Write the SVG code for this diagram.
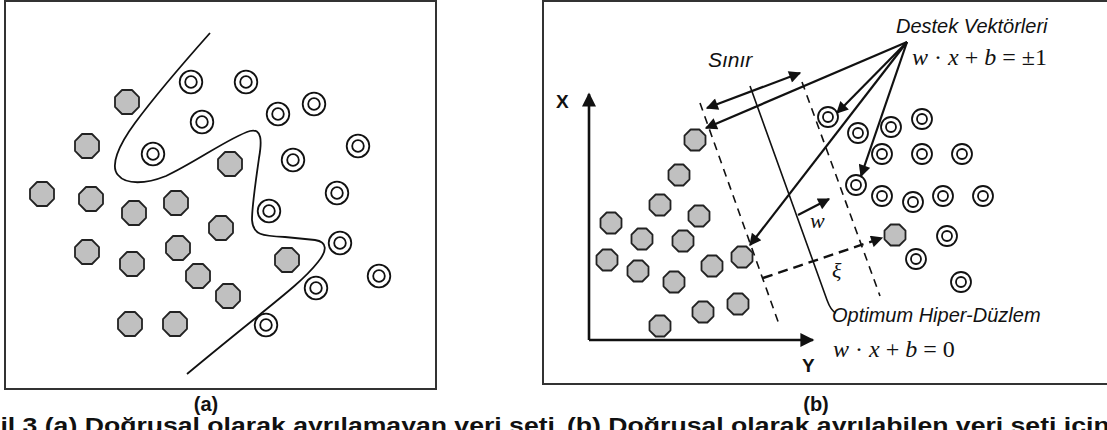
<svg xmlns="http://www.w3.org/2000/svg" xmlns:xlink="http://www.w3.org/1999/xlink" width="1107" height="430" viewBox="0 0 1107 430">
  <style>
    .frame { fill: none; stroke: #333; stroke-width: 2; }
    .oct { fill: #c0c0c0; stroke: #222; stroke-width: 1.8; stroke-linejoin: round; }
    .ring { fill: #fff; stroke: #111; stroke-width: 1.8; }
    .curve { fill: none; stroke: #111; stroke-width: 1.8; }
    .thin { fill: none; stroke: #111; stroke-width: 1.6; }
    .dash { fill: none; stroke: #111; stroke-width: 1.6; stroke-dasharray: 8 6; }
    .dash2 { fill: none; stroke: #111; stroke-width: 2.4; stroke-dasharray: 10 6; }
    .arr { fill: none; stroke: #111; stroke-width: 2.2; }
    .axis { fill: none; stroke: #111; stroke-width: 2.6; }
    .sans { font-family: "Liberation Sans", Arial, sans-serif; fill: #111; }
    .it { font-style: italic; }
    .bold { font-weight: bold; }
    .math { font-family: "Liberation Serif", "Times New Roman", serif; fill: #111; }
  </style>
  <defs>
    <!-- large octagon / ring used in panel (a) -->
    <polygon id="octA" points="-4.97,-12 4.97,-12 12,-4.97 12,4.97 4.97,12 -4.97,12 -12,4.97 -12,-4.97"/>
    <g id="ringA"><circle r="11.3"/><circle r="5.8"/></g>
    <!-- smaller octagon / ring used in panel (b) -->
    <polygon id="octB" points="-4.35,-10.5 4.35,-10.5 10.5,-4.35 10.5,4.35 4.35,10.5 -4.35,10.5 -10.5,4.35 -10.5,-4.35"/>
    <g id="ringB"><circle r="10"/><circle r="5"/></g>
    <marker id="ah" viewBox="0 0 10 10" refX="9" refY="5" markerWidth="14" markerHeight="12" markerUnits="userSpaceOnUse" orient="auto-start-reverse">
      <path d="M0,0 L10,5 L0,10 z" fill="#111"/>
    </marker>
    <marker id="ahAxis" viewBox="0 0 10 10" refX="9" refY="5" markerWidth="16" markerHeight="14" markerUnits="userSpaceOnUse" orient="auto">
      <path d="M0,0 L10,5 L0,10 z" fill="#111"/>
    </marker>
  </defs>

  <!-- ===== Panel (a): non-linear separation ===== -->
  <rect class="frame" x="5" y="1" width="431" height="388"/>

  <g id="a-boundary">
    <path class="curve" d="M210,33 C186,60 152,100 135,123 C118,146 110,166 118,175 C126,185 146,184 166,176 C196,162 230,137 250,131 C262,128 262,141 259,158 C256,180 252,205 252,220 C253,235 262,236 285,237 L315,240 C328,242 327,251 318,262 C300,285 270,305 187,374"/>
  </g>

  <g id="a-class1" class="oct">
    <g id="a-o1"><use xlink:href="#octA" x="127" y="102"/></g>
    <g id="a-o2"><use xlink:href="#octA" x="87" y="146"/></g>
    <g id="a-o3"><use xlink:href="#octA" x="230" y="164"/></g>
    <g id="a-o4"><use xlink:href="#octA" x="42" y="194"/></g>
    <g id="a-o5"><use xlink:href="#octA" x="91" y="199"/></g>
    <g id="a-o6"><use xlink:href="#octA" x="176" y="203"/></g>
    <g id="a-o7"><use xlink:href="#octA" x="134" y="213"/></g>
    <g id="a-o8"><use xlink:href="#octA" x="221" y="228"/></g>
    <g id="a-o9"><use xlink:href="#octA" x="87" y="252"/></g>
    <g id="a-o10"><use xlink:href="#octA" x="132" y="264"/></g>
    <g id="a-o11"><use xlink:href="#octA" x="178" y="248"/></g>
    <g id="a-o12"><use xlink:href="#octA" x="198" y="276"/></g>
    <g id="a-o13"><use xlink:href="#octA" x="228" y="296"/></g>
    <g id="a-o14"><use xlink:href="#octA" x="130" y="324"/></g>
    <g id="a-o15"><use xlink:href="#octA" x="175" y="324"/></g>
    <g id="a-o16"><use xlink:href="#octA" x="287" y="260"/></g>
  </g>

  <g id="a-class2" class="ring">
    <g id="a-r1"><use xlink:href="#ringA" x="191" y="82"/></g>
    <g id="a-r2"><use xlink:href="#ringA" x="246" y="82"/></g>
    <g id="a-r3"><use xlink:href="#ringA" x="202" y="122"/></g>
    <g id="a-r4"><use xlink:href="#ringA" x="153" y="154"/></g>
    <g id="a-r5"><use xlink:href="#ringA" x="278" y="114"/></g>
    <g id="a-r6"><use xlink:href="#ringA" x="314" y="104"/></g>
    <g id="a-r7"><use xlink:href="#ringA" x="358" y="146"/></g>
    <g id="a-r8"><use xlink:href="#ringA" x="293" y="160"/></g>
    <g id="a-r9"><use xlink:href="#ringA" x="337" y="193"/></g>
    <g id="a-r10"><use xlink:href="#ringA" x="269" y="211"/></g>
    <g id="a-r11"><use xlink:href="#ringA" x="340" y="243"/></g>
    <g id="a-r12"><use xlink:href="#ringA" x="379" y="276"/></g>
    <g id="a-r13"><use xlink:href="#ringA" x="316" y="288"/></g>
    <g id="a-r14"><use xlink:href="#ringA" x="266" y="325"/></g>
  </g>

  <text class="sans bold" x="206" y="411" font-size="20" text-anchor="middle">(a)</text>

  <!-- ===== Panel (b): optimal separating hyperplane ===== -->
  <rect class="frame" x="543" y="1" width="600" height="383"/>

  <g id="b-connectors">
    <!-- axes -->
    <path class="axis" d="M589,340 L589,94" marker-end="url(#ahAxis)"/>
    <path class="axis" d="M589,340 L813,340" marker-end="url(#ahAxis)"/>
    <!-- margins and hyperplane -->
    <path class="dash" d="M700,103 L780,327"/>
    <path class="dash" d="M802,82 L880,296"/>
    <path class="thin" d="M750,86 L827,300 Q831,311 836,313"/>
    <!-- margin width -->
    <path class="arr" d="M707,108 L800,73" marker-start="url(#ah)" marker-end="url(#ah)"/>
    <!-- support vector pointers -->
    <path class="arr" d="M907,42 L706,128" marker-end="url(#ah)"/>
    <path class="arr" d="M907,42 L837,113" marker-end="url(#ah)"/>
    <path class="arr" d="M907,42 L750,245" marker-end="url(#ah)"/>
    <path class="arr" d="M907,42 L861,176" marker-end="url(#ah)"/>
    <!-- normal vector w -->
    <path class="arr" d="M798,215 L829,199" marker-end="url(#ah)"/>
    <!-- slack ξ -->
    <path class="dash2" d="M763,278 L882,238" marker-end="url(#ah)"/>
  </g>

  <g id="b-class1" class="oct">
    <g id="b-o1"><use xlink:href="#octB" x="695" y="140"/></g>
    <g id="b-o2"><use xlink:href="#octB" x="679" y="175"/></g>
    <g id="b-o3"><use xlink:href="#octB" x="660" y="205"/></g>
    <g id="b-o4"><use xlink:href="#octB" x="611" y="223"/></g>
    <g id="b-o5"><use xlink:href="#octB" x="699" y="216"/></g>
    <g id="b-o6"><use xlink:href="#octB" x="642" y="239"/></g>
    <g id="b-o7"><use xlink:href="#octB" x="683" y="241"/></g>
    <g id="b-o8"><use xlink:href="#octB" x="607" y="260"/></g>
    <g id="b-o9"><use xlink:href="#octB" x="638" y="271"/></g>
    <g id="b-o10"><use xlink:href="#octB" x="712" y="266"/></g>
    <g id="b-o11"><use xlink:href="#octB" x="742" y="257"/></g>
    <g id="b-o12"><use xlink:href="#octB" x="674" y="282"/></g>
    <g id="b-o13"><use xlink:href="#octB" x="703" y="312"/></g>
    <g id="b-o14"><use xlink:href="#octB" x="738" y="304"/></g>
    <g id="b-o15"><use xlink:href="#octB" x="660" y="326"/></g>
    <g id="b-o16"><use xlink:href="#octB" x="895" y="235"/></g>
  </g>

  <g id="b-class2" class="ring">
    <g id="b-r1"><use xlink:href="#ringB" x="828" y="117"/></g>
    <g id="b-r2"><use xlink:href="#ringB" x="858" y="133"/></g>
    <g id="b-r3"><use xlink:href="#ringB" x="891" y="127"/></g>
    <g id="b-r4"><use xlink:href="#ringB" x="922" y="119"/></g>
    <g id="b-r5"><use xlink:href="#ringB" x="882" y="154"/></g>
    <g id="b-r6"><use xlink:href="#ringB" x="922" y="154"/></g>
    <g id="b-r7"><use xlink:href="#ringB" x="962" y="154"/></g>
    <g id="b-r8"><use xlink:href="#ringB" x="856" y="185"/></g>
    <g id="b-r9"><use xlink:href="#ringB" x="882" y="196"/></g>
    <g id="b-r10"><use xlink:href="#ringB" x="913" y="202"/></g>
    <g id="b-r11"><use xlink:href="#ringB" x="943" y="196"/></g>
    <g id="b-r12"><use xlink:href="#ringB" x="983" y="196"/></g>
    <g id="b-r13"><use xlink:href="#ringB" x="947" y="236"/></g>
    <g id="b-r14"><use xlink:href="#ringB" x="916" y="259"/></g>
    <g id="b-r15"><use xlink:href="#ringB" x="961" y="282"/></g>
  </g>

  <g id="b-labels">
    <text class="sans bold" x="556" y="108" font-size="19">X</text>
    <text class="sans bold" x="802" y="372" font-size="19">Y</text>
    <text class="sans it" x="708" y="67" font-size="21">Sınır</text>
    <text class="sans it" x="896" y="33" font-size="20">Destek Vektörleri</text>
    <text class="math" x="912" y="65" font-size="24"><tspan font-style="italic">w</tspan> · <tspan font-style="italic">x</tspan> + <tspan font-style="italic">b</tspan> = ±1</text>
    <text class="math it" x="810" y="228" font-size="22">w</text>
    <text class="math it" x="832" y="278" font-size="22">ξ</text>
    <text class="sans it" x="832" y="322" font-size="20">Optimum Hiper-Düzlem</text>
    <text class="math" x="833" y="357" font-size="24"><tspan font-style="italic">w</tspan> · <tspan font-style="italic">x</tspan> + <tspan font-style="italic">b</tspan> = 0</text>
  </g>

  <text class="sans bold" x="816" y="411" font-size="20" text-anchor="middle">(b)</text>

  <!-- figure caption (wide bold face), running off the bottom edge -->
  <text class="sans bold" transform="scale(1.21,1)" x="-38.8" y="433" font-size="22">Şekil 3 (a) Doğrusal olarak ayrılamayan veri seti <tspan x="468.6">(b) Doğrusal olarak ayrılabilen veri seti için hiper-düzlem</tspan></text>
</svg>
